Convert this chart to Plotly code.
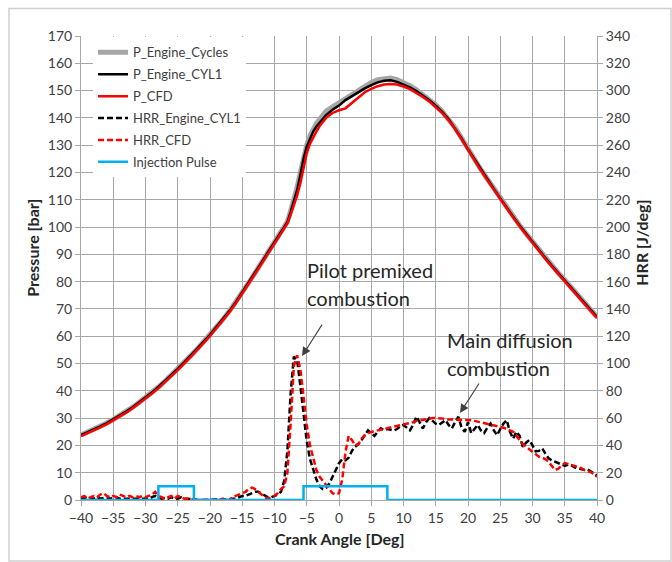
import plotly.graph_objects as go

# ---------------- data ----------------
p_x = [-40, -39, -38, -37, -36, -35, -34, -33, -32, -31, -30, -29, -28, -27, -26, -25, -24, -23, -22, -21,
       -20, -19, -18, -17, -16, -15, -14, -13, -12, -11, -10, -9,
       -8, -7.5, -7, -6.5, -6, -5.5, -5, -4.5, -4, -3.5, -3,
       -2, -1, 0, 1, 2, 3, 4, 5, 6, 7, 8, 9, 10, 11, 12, 13, 14, 15, 16, 17, 18, 19, 20,
       21, 22, 23, 24, 25, 26, 27, 28, 29, 30, 31, 32, 33, 34, 35, 36, 37, 38, 39, 40]

p_engine_cyl1 = [23.8, 24.8, 25.9, 27.0, 28.2, 29.5, 30.9, 32.4, 34.0, 35.7, 37.5, 39.4, 41.4, 43.5, 45.7, 48.0,
                 50.4, 52.8, 55.3, 57.9, 60.5, 63.3, 66.2, 69.2, 72.5, 76.0, 79.6, 83.3, 87.0, 90.8, 94.5, 98.2,
                 101.8, 105.5, 109.5, 113.5, 119.0, 125.0, 129.5, 132.5, 135.0, 136.8, 138.3,
                 141.0, 143.0, 144.5, 146.5, 148.0, 149.5, 150.8, 152.0, 153.0, 153.6, 153.8, 153.2, 152.3,
                 151.2, 149.8, 148.2, 146.5, 144.5, 142.2, 139.5, 136.2, 132.5, 128.5,
                 124.8, 121.0, 117.5, 114.0, 110.5, 107.0, 103.8, 100.6, 97.5, 94.5, 91.5, 88.6, 85.8, 83.1,
                 80.5, 77.8, 75.2, 72.6, 70.0, 67.0]

p_engine_cycles = [23.8, 24.8, 25.9, 27.0, 28.2, 29.5, 30.9, 32.4, 34.0, 35.7, 37.5, 39.4, 41.4, 43.5, 45.7, 48.0,
                   50.4, 52.8, 55.3, 57.9, 60.5, 63.3, 66.2, 69.2, 72.5, 76.0, 79.6, 83.3, 87.0, 90.8, 94.5, 98.2,
                   102.0, 106.0, 110.0, 114.5, 120.0, 125.5, 130.0, 133.5, 136.0, 138.0, 139.5,
                   142.5, 144.0, 145.5, 147.2, 149.0, 150.5, 151.8, 153.0, 154.0, 154.5, 154.6, 154.0, 153.0,
                   151.8, 150.3, 148.6, 146.8, 144.8, 142.4, 139.7, 136.4, 132.6, 128.6,
                   124.9, 121.1, 117.6, 114.1, 110.6, 107.1, 103.9, 100.7, 97.6, 94.6, 91.6, 88.7, 85.9, 83.2,
                   80.6, 77.9, 75.3, 72.7, 70.1, 67.1]

p_cfd = [23.4, 24.4, 25.5, 26.6, 27.8, 29.1, 30.5, 32.0, 33.6, 35.3, 37.1, 39.0, 41.0, 43.1, 45.3, 47.6,
         50.0, 52.4, 54.9, 57.5, 60.1, 62.9, 65.8, 68.8, 72.1, 75.6, 79.2, 82.9, 86.6, 90.4, 94.1, 97.8,
         101.3, 104.5, 108.0, 111.5, 116.0, 122.0, 127.0, 130.5, 133.0, 135.0, 137.0,
         140.0, 141.8, 142.8, 143.5, 145.5, 147.7, 149.4, 150.6, 151.6, 152.2, 152.4, 152.2, 151.5,
         150.5, 149.2, 147.7, 146.0, 144.0, 141.8, 139.1, 135.9, 132.2, 128.2,
         124.5, 120.7, 117.2, 113.7, 110.2, 106.7, 103.5, 100.3, 97.2, 94.2, 91.2, 88.3, 85.5, 82.8,
         80.2, 77.5, 74.9, 72.3, 69.7, 66.6]

hrr_x = [-40 + 0.5 * i for i in range(161)]

hrr_engine_cyl1 = [
    1, 2, 1, 1.5, 1, 2, 1, 1.5, 2, 1, 1.5, 2, 1, 1, 1.5, 1, 1, 1.5, 1, 1,
    1.5, 1, 2, 3, 2, 1, 1.5, 1, 2, 1, 1, 2, 1, 1, 0.5, 0.5,
    0, 0, 0, 0, 0, 0, 0, 0, 0,
    0.5, 0.5, 1, 1, 2, 3, 3, 4, 5, 6, 6, 4.5, 3, 2, 2, 3, 4, 6, 14,
    36, 78, 105, 103, 84, 61, 43, 30, 22, 15, 10, 8, 9, 12, 17, 22, 27,
    30, 29, 31, 36, 39, 41, 44, 48, 51, 49,
    47, 50, 52.5, 51, 52, 51.5, 51, 52, 54, 55,
    53, 51, 55, 61, 57, 52.5, 57, 60, 58, 56,
    55, 57, 58.5, 55, 52.5, 57, 61, 53, 50, 57,
    49, 52, 55, 51, 49, 53, 56, 51, 47.5, 52,
    56, 58.5, 50, 45, 50, 47, 39, 42, 44, 40,
    35.6, 36, 37.8, 34, 30.5, 29, 28, 27, 26.5, 25,
    26, 25.5, 24, 23.5, 23, 22, 22.5, 21, 20, 18]

hrr_cfd = [
    2, 3, 1, 2, 3, 2, 4, 5, 3, 2, 3, 2, 4, 3, 2, 3, 2, 3, 2, 3,
    2, 3, 4, 6, 3, 2, 1, 2, 3, 1, 3, 2, 1, 1, 0.5, 0,
    0, 0, 0, 0, 0, 0, 0, 0, 1,
    0, 0, 2, 3, 4, 5, 6, 8, 9, 8, 6, 4, 2, 1, 2, 3, 5, 8, 10,
    20, 56, 98, 106, 96, 76, 55, 40, 30, 22, 17, 14, 11, 8, 5, 4, 5,
    15, 35, 47, 44, 40, 41, 45, 47.5, 49, 50,
    50.5, 51, 51.5, 52, 52.5, 53, 53.5, 54, 55, 55.5,
    56, 56.5, 57, 58, 58.5, 59, 59.5, 59.5, 60, 60,
    60, 59.5, 59.5, 59, 59, 59, 59, 58.5, 58.5, 58.5,
    58.5, 58, 57.5, 57, 56.5, 56, 55.5, 55, 54, 53.6,
    53, 52, 51, 50, 47, 44, 41, 39, 37, 35,
    33, 31.7, 31, 30, 28, 25, 22, 23, 25, 27,
    26.5, 25.6, 25, 24, 23.5, 22, 21.5, 20.5, 19, 17]

pulse_x = [-40, -28, -28, -22.5, -22.5, -5.5, -5.5, 7.5, 7.5, 40]
pulse_y = [0, 0, 10, 10, 0, 0, 10, 10, 0, 0]

x_ticks = list(range(-40, 41, 5))
p_ticks = list(range(0, 171, 10))
hrr_ticks = list(range(0, 341, 20))

# ---------------- figure ----------------
FONT = "Lato, 'Liberation Sans', sans-serif"
GRID = "#a8a8a8"
TXT = "#404040"

fig = go.Figure()
fig.add_trace(go.Scatter(x=p_x, y=p_engine_cycles, name="P_Engine_Cycles", mode="lines",
                         line=dict(color="#a6a6a6", width=5), legendgroup="a"))
fig.add_trace(go.Scatter(x=p_x, y=p_engine_cyl1, name="P_Engine_CYL1", mode="lines",
                         line=dict(color="#000000", width=2.5), legendgroup="b"))
fig.add_trace(go.Scatter(x=p_x, y=p_cfd, name="P_CFD", mode="lines",
                         line=dict(color="#ff0000", width=2.5), legendgroup="c"))
fig.add_trace(go.Scatter(x=hrr_x, y=hrr_engine_cyl1, name="HRR_Engine_CYL1", mode="lines", yaxis="y2",
                         line=dict(color="#000000", width=2.5, dash="6px,3px"), legendgroup="d"))
fig.add_trace(go.Scatter(x=hrr_x, y=hrr_cfd, name="HRR_CFD", mode="lines", yaxis="y2",
                         line=dict(color="#ff0000", width=2.5, dash="6px,3px"), legendgroup="e"))
fig.add_trace(go.Scatter(x=pulse_x, y=pulse_y, name="Injection Pulse", mode="lines", yaxis="y2",
                         line=dict(color="#00b0f0", width=2.5), legendgroup="f", cliponaxis=False))

x0p, wpx = 81, 516
y0p, hpx = 500, 464.4


def px(x):
    return (x - x0p) / wpx


def py(y):
    return (y0p - y) / hpx


shapes = [
    # outer chart frame
    dict(type="rect", xref="paper", yref="paper", x0=px(9), x1=px(671), y0=py(561), y1=py(8),
         line=dict(color="#d0d0d0", width=1.5), fillcolor="rgba(0,0,0,0)", layer="below"),
    # text boxes that hide the gridlines
    dict(type="rect", xref="paper", yref="paper", x0=px(292), x1=px(458), y0=py(320), y1=py(243),
         line=dict(width=0), fillcolor="white", layer="between"),
    dict(type="rect", xref="paper", yref="paper", x0=px(433), x1=px(593), y0=py(400), y1=py(310),
         line=dict(width=0), fillcolor="white", layer="between"),
]

ann_font = dict(family=FONT, size=20, color="#262626")
annotations = [
    dict(xref="paper", yref="paper", x=px(305), y=py(270), text="Pilot premixed", showarrow=False,
         xanchor="left", yanchor="middle", font=ann_font),
    dict(xref="paper", yref="paper", x=px(305), y=py(298), text="combustion", showarrow=False,
         xanchor="left", yanchor="middle", font=ann_font),
    dict(xref="paper", yref="paper", x=px(445), y=py(340), text="Main diffusion", showarrow=False,
         xanchor="left", yanchor="middle", font=ann_font),
    dict(xref="paper", yref="paper", x=px(445), y=py(368), text="combustion", showarrow=False,
         xanchor="left", yanchor="middle", font=ann_font),
    # arrows
    dict(xref="paper", yref="paper", x=px(302), y=py(356), ax=21, ay=-33, text="", showarrow=True,
         arrowhead=2, arrowsize=1.6, arrowwidth=1.1, arrowcolor="#404040"),
    dict(xref="paper", yref="paper", x=px(460), y=py(413), ax=20, ay=-31, text="", showarrow=True,
         arrowhead=2, arrowsize=1.6, arrowwidth=1.1, arrowcolor="#404040"),
    # axis titles
    dict(xref="paper", yref="paper", x=px(21), y=py(248), text="<b>Pressure [bar]</b>", showarrow=False,
         textangle=-90, font=dict(family=FONT, size=16, color="#262626")),
    dict(xref="paper", yref="paper", x=px(653), y=py(243), text="<b>HRR [J/deg]</b>", showarrow=False,
         textangle=-90, font=dict(family=FONT, size=16, color="#262626")),
    dict(xref="paper", yref="paper", x=px(340), y=py(550), text="<b>Crank Angle [Deg]</b>", showarrow=False,
         font=dict(family=FONT, size=16, color="#262626")),
]

fig.update_layout(
    width=672, height=562,
    margin=dict(l=81, r=75, t=36, b=62),
    paper_bgcolor="white", plot_bgcolor="white",
    font=dict(family=FONT, size=13, color=TXT),
    showlegend=True,
    legend=dict(x=px(93), y=py(37), xanchor="left", yanchor="top", bgcolor="white",
                borderwidth=0, font=dict(family=FONT, size=13, color=TXT),
                traceorder="grouped", tracegroupgap=2, itemwidth=30),
    xaxis=dict(range=[-40, 40], tickvals=x_ticks, showgrid=True, gridcolor=GRID, gridwidth=1,
               zeroline=False, showline=True, linecolor=GRID, ticks="outside", ticklen=5,
               tickcolor=GRID, tickfont=dict(size=14, color=TXT)),
    yaxis=dict(range=[0, 170], tickvals=p_ticks, showgrid=True, gridcolor=GRID, gridwidth=1,
               zeroline=False, showline=True, linecolor=GRID, ticks="outside", ticklen=5,
               tickcolor=GRID, tickfont=dict(size=14, color=TXT)),
    yaxis2=dict(range=[0, 340], tickvals=hrr_ticks, overlaying="y", side="right", showgrid=False,
                zeroline=False, showline=True, linecolor=GRID, ticks="outside", ticklen=5,
                tickcolor=GRID, tickfont=dict(size=14, color=TXT)),
    shapes=shapes,
    annotations=annotations,
)

fig.write_html("out.html")
